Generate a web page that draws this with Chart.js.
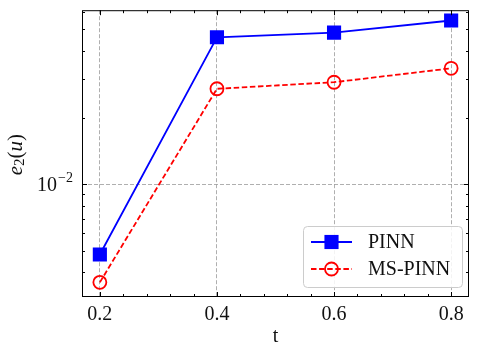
<!DOCTYPE html>
<html>
<head>
<meta charset="utf-8">
<script src="https://cdn.jsdelivr.net/npm/chart.js@4.4.0/dist/chart.umd.min.js"></script>
<style>
  html, body { margin: 0; padding: 0; background: #fff; }
</style>
</head>
<body>
<canvas id="chart" width="479" height="355"></canvas>
<script>
// data
const tValues = [0.2, 0.4, 0.6, 0.8];
const pinnErr = [0.00482, 0.0461, 0.0484, 0.0549];
const msPinnErr = [0.00361, 0.0270, 0.0289, 0.0334];
const seriesNames = ['PINN', 'MS-PINN'];
const xTickValues = [0.2, 0.4, 0.6, 0.8];
const yTickValues = [0.01];
const yTickLabels = [['10', '\u22122']];
const xLabel = 't';

const SERIF = '"Liberation Serif", "DejaVu Serif", serif';

function toPoints(xs, ys) {
    return xs.map((x, i) => ({ x: x, y: ys[i] }));
}

// frame, inside ticks, y tick label, y title and legend
const axesDecor = {
    id: 'axesDecor',
    afterDraw(chart) {
        const ctx = chart.ctx;
        const a = chart.chartArea;
        const xs = chart.scales.x;
        const ys = chart.scales.y;
        ctx.save();
        ctx.setLineDash([]);
        ctx.strokeStyle = '#000';
        ctx.lineWidth = 1;

        // ticks on all four sides
        const tick = (x1, y1, x2, y2) => {
            ctx.beginPath();
            ctx.moveTo(x1, y1);
            ctx.lineTo(x2, y2);
            ctx.stroke();
        };
        for (let i = -1; i <= 16; i++) {
            const v = 0.2 + 0.04 * i;
            if (v < xs.min || v > xs.max) continue;
            const len = (i % 5 === 0) ? 5 : 3;
            const px = Math.round(xs.getPixelForValue(v)) + 0.5;
            tick(px, a.bottom, px, a.bottom - len);
            tick(px, a.top, px, a.top + len);
        }
        for (let d = -4; d <= -1; d++) {
            for (let m = 1; m <= 9; m++) {
                const v = m * Math.pow(10, d);
                if (v < ys.min || v > ys.max) continue;
                const len = (m === 1) ? 5 : 3;
                const py = Math.round(ys.getPixelForValue(v)) + 0.5;
                tick(a.left, py, a.left + len, py);
                tick(a.right, py, a.right - len, py);
            }
        }

        // frame
        ctx.strokeRect(a.left + 0.5, a.top + 0.5, a.right - a.left - 1, a.bottom - a.top - 1);

        // y tick labels with superscript
        ctx.fillStyle = '#111';
        ctx.textBaseline = 'middle';
        yTickValues.forEach((v, i) => {
            const py = ys.getPixelForValue(v);
            ctx.font = '20px ' + SERIF;
            const wBase = ctx.measureText(yTickLabels[i][0]).width;
            ctx.font = '14px ' + SERIF;
            const wSup = ctx.measureText(yTickLabels[i][1]).width;
            const right = a.left - 9;
            ctx.font = '20px ' + SERIF;
            ctx.textAlign = 'left';
            ctx.fillText(yTickLabels[i][0], right - wSup - wBase - 1, py + 1);
            ctx.font = '14px ' + SERIF;
            ctx.fillText(yTickLabels[i][1], right - wSup, py - 6);
        });

        // y title e_2(u)
        const parts = [
            { t: 'e', f: 'italic 21px ' + SERIF, dy: 0 },
            { t: '2', f: '15px ' + SERIF, dy: 4 },
            { t: '(', f: '21px ' + SERIF, dy: 0 },
            { t: 'u', f: 'italic 21px ' + SERIF, dy: 0 },
            { t: ')', f: '21px ' + SERIF, dy: 0 }
        ];
        let total = 0;
        parts.forEach(p => { ctx.font = p.f; p.w = ctx.measureText(p.t).width; total += p.w; });
        ctx.save();
        ctx.translate(16, (a.top + a.bottom) / 2 + 1);
        ctx.rotate(-Math.PI / 2);
        ctx.textAlign = 'left';
        ctx.textBaseline = 'middle';
        let cx = -total / 2;
        parts.forEach(p => {
            ctx.font = p.f;
            ctx.fillText(p.t, cx, p.dy);
            cx += p.w;
        });
        ctx.restore();

        // legend
        const bx = 303, by = 226, bw = 159, bh = 61;
        ctx.beginPath();
        ctx.roundRect(bx + 0.5, by + 0.5, bw, bh, 4);
        ctx.fillStyle = 'rgba(255,255,255,0.85)';
        ctx.fill();
        ctx.strokeStyle = '#cccccc';
        ctx.lineWidth = 1;
        ctx.stroke();
        chart.data.datasets.forEach((ds, i) => {
            const ly = 242 + i * 27;
            ctx.strokeStyle = ds.borderColor;
            ctx.lineWidth = ds.borderWidth;
            ctx.setLineDash(ds.borderDash || []);
            ctx.beginPath();
            ctx.moveTo(311, ly);
            ctx.lineTo(352, ly);
            ctx.stroke();
            ctx.setLineDash([]);
            ctx.fillStyle = ds.pointBackgroundColor;
            ctx.strokeStyle = ds.pointBorderColor;
            ctx.lineWidth = ds.pointBorderWidth;
            Chart.helpers.drawPoint(ctx, {
                pointStyle: ds.pointStyle,
                radius: ds.pointRadius,
                borderWidth: ds.pointBorderWidth,
                rotation: 0
            }, 331.5, ly);
            ctx.fillStyle = '#111';
            ctx.font = '20px ' + SERIF;
            ctx.textAlign = 'left';
            ctx.textBaseline = 'middle';
            ctx.fillText(seriesNames[i], 368, ly + 1);
        });
        ctx.restore();
    }
};

new Chart(document.getElementById('chart'), {
    type: 'line',
    data: {
        datasets: [
            {
                label: seriesNames[0],
                data: toPoints(tValues, pinnErr),
                borderColor: '#0000ff',
                backgroundColor: '#0000ff',
                borderWidth: 1.8,
                pointStyle: 'rect',
                pointRadius: 10,
                pointBorderWidth: 0,
                pointBackgroundColor: '#0000ff',
                pointBorderColor: '#0000ff'
            },
            {
                label: seriesNames[1],
                data: toPoints(tValues, msPinnErr),
                borderColor: '#ff0000',
                backgroundColor: 'rgba(0,0,0,0)',
                borderWidth: 1.8,
                borderDash: [5.5, 2.6],
                pointStyle: 'circle',
                pointRadius: 6.5,
                pointBorderWidth: 1.8,
                pointBackgroundColor: 'rgba(0,0,0,0)',
                pointBorderColor: '#ff0000'
            }
        ]
    },
    options: {
        responsive: false,
        animation: false,
        layout: { padding: { top: 7, right: 7, left: 0, bottom: 0 } },
        plugins: {
            legend: { display: false },
            tooltip: { enabled: false }
        },
        scales: {
            x: {
                type: 'linear',
                min: 0.1695,
                max: 0.8305,
                afterBuildTicks: scale => { scale.ticks = xTickValues.map(v => ({ value: v })); },
                afterFit: scale => { scale.height = 58; },
                grid: { color: '#9a9a9a', lineWidth: 0.8, drawTicks: false },
                border: { display: false, dash: [4, 2] },
                ticks: {
                    padding: 6,
                    color: '#111',
                    font: { family: SERIF, size: 20 },
                    callback: v => v.toFixed(1)
                },
                title: {
                    display: true,
                    text: xLabel,
                    color: '#111',
                    font: { family: SERIF, size: 20 },
                    padding: { top: 0, bottom: 6 }
                }
            },
            y: {
                type: 'logarithmic',
                min: 0.0031,
                max: 0.0611,
                afterBuildTicks: scale => { scale.ticks = yTickValues.map(v => ({ value: v })); },
                afterFit: scale => { scale.width = 82; },
                grid: { color: '#9a9a9a', lineWidth: 0.8, drawTicks: false },
                border: { display: false, dash: [4, 2] },
                ticks: { callback: () => '' }
            }
        }
    },
    plugins: [axesDecor]
});
</script>
</body>
</html>
